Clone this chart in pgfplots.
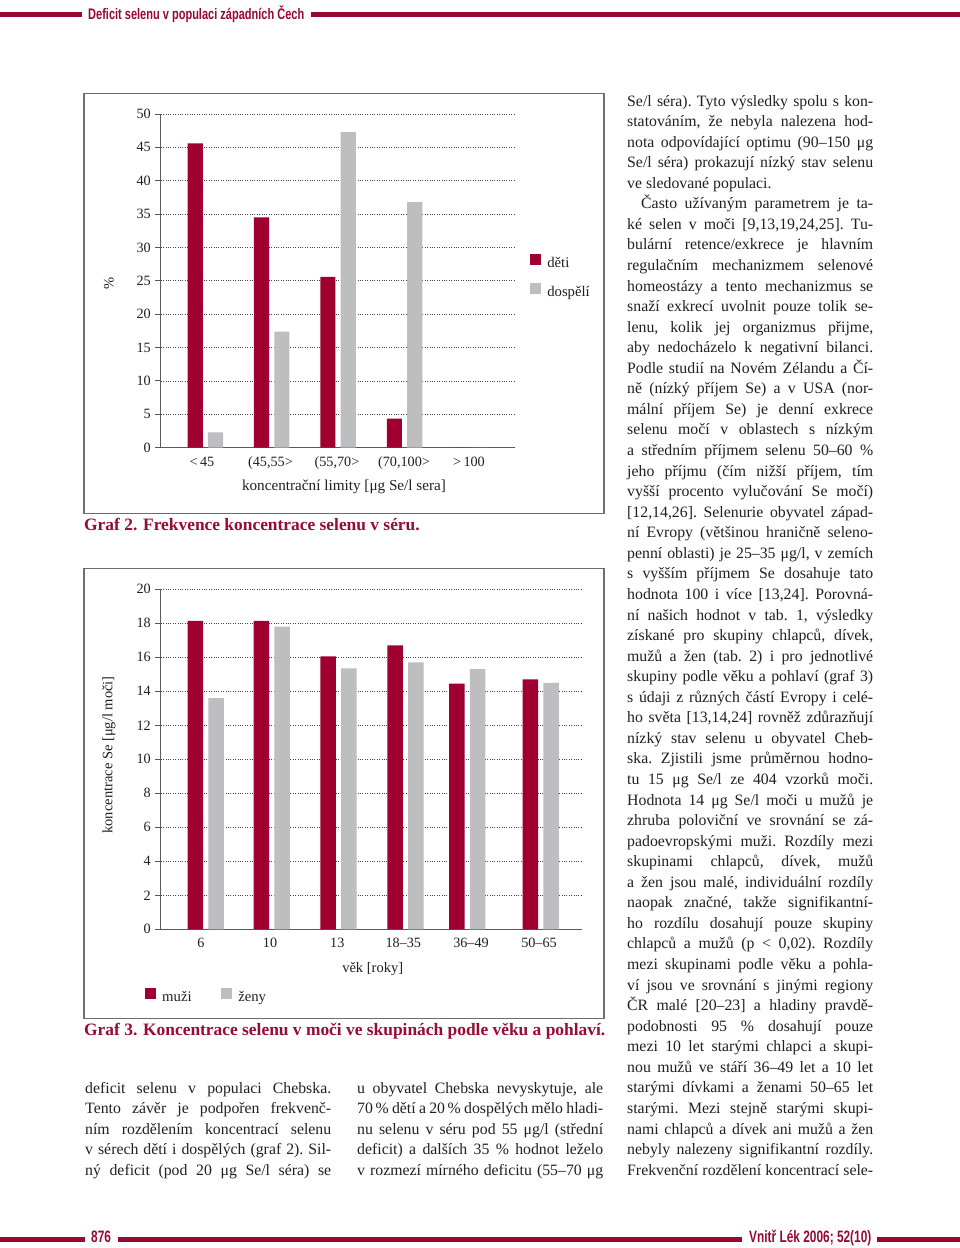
\documentclass[border=0pt]{standalone}
\usepackage{fontspec}
\setmainfont{Liberation Serif}
\newfontfamily\headfont[FakeStretch=0.72]{Liberation Sans}
\usepackage{pgfplots}
\pgfplotsset{compat=1.18}
\definecolor{barred}{RGB}{160,0,48}
\definecolor{bargray}{RGB}{190,190,192}
\definecolor{capred}{RGB}{150,12,50}
\definecolor{hdred}{RGB}{150,10,50}
\definecolor{axgray}{RGB}{90,90,90}
\definecolor{gridgray}{RGB}{70,70,70}
\definecolor{framegray}{RGB}{110,110,110}
\definecolor{txt}{RGB}{35,31,32}
\newcommand\J[1]{\hbox to 246pt{#1}}
\newcommand\N[1]{\hbox{#1}}
\newcommand\col[1]{\vtop{\fontsize{15.8}{20.56}\selectfont\frenchspacing\baselineskip=20.56pt\lineskiplimit=-30pt\hsize=246pt #1}}
\pgfplotsset{
  mybars/.style={
    axis x line*=bottom, axis y line*=left,
    axis line style={draw=axgray, line width=1.2pt, -},
    ymajorgrids, grid style={dotted, draw=gridgray, line width=0.9pt},
    tick align=outside, major tick length=6pt,
    ytick style={draw=axgray, line width=1pt},
    xtick style={draw=none},
    /pgf/number format/assume math mode=true,
    tick label style={font=\fontsize{14.2}{16}\selectfont, text=txt},
    yticklabel style={anchor=east, inner sep=0pt, xshift=-3.7pt},
    xticklabel style={anchor=north, inner sep=0pt, yshift=-3pt},
    legend cell align=left,
    clip=false,
  }
}
\begin{document}
\begin{tikzpicture}
\begin{scope}[x=1pt,y=-1pt]
\path[use as bounding box, fill=white] (0,0) rectangle (960,1248);
% header
\fill[hdred] (0,11.8) rectangle (82,16.8);
\fill[hdred] (311,11.8) rectangle (960,16.8);
\node[anchor=base west, inner sep=0, text=hdred] at (88,19.5) {\headfont\bfseries\fontsize{15.3}{15}\selectfont Deficit selenu v populaci západních Čech};
% footer
\fill[hdred] (0,1237.3) rectangle (85,1242.3);
\fill[hdred] (118,1237.3) rectangle (742,1242.3);
\fill[hdred] (877,1237.3) rectangle (960,1242.3);
\node[anchor=base west, inner sep=0, text=hdred] at (91,1242.5) {\headfont\bfseries\fontsize{16.5}{16}\selectfont 876};
\node[anchor=base west, inner sep=0, text=hdred] at (749,1242.5) {\headfont\bfseries\fontsize{16.5}{16}\selectfont Vnitř Lék 2006; 52(10)};
% frames
\draw[framegray, line width=1.4pt] (84,93.3) rectangle (604,513.3);
\draw[framegray, line width=1.4pt] (84,568.3) rectangle (604,1018.3);
% captions
\node[anchor=base west, inner sep=0, text=capred, font=\bfseries\fontsize{17.4}{20}\selectfont] at (84,530) {Graf 2. Frekvence koncentrace selenu v séru.};
\node[anchor=base west, inner sep=0, text=capred, font=\bfseries\fontsize{17.4}{20}\selectfont] at (84,1035) {Graf 3. Koncentrace selenu v moči ve skupinách podle věku a pohlaví.};
% axis labels
\node[rotate=90, text=txt, font=\fontsize{14.5}{17}\selectfont] at (108.8,283) {\%};
\node[text=txt, font=\fontsize{15.2}{17}\selectfont] at (344,487) {koncentrační limity [μg Se/l sera]};
\node[rotate=90, text=txt, font=\fontsize{14.5}{17}\selectfont] at (108.8,755) {koncentrace Se [μg/l moči]};
\node[text=txt, font=\fontsize{14.5}{17}\selectfont] at (372.7,969) {věk [roky]};
% body text
\node[anchor=base west, inner sep=0, text=txt] at (85,1093) {\col{%
\J{deficit selenu v populaci Chebska.}
\J{Tento závěr je podpořen frekvenč-}
\J{ním rozdělením koncentrací selenu}
\J{v sérech dětí i dospělých (graf 2). Sil-}
\J{ný deficit (pod 20 μg Se/l séra) se}}};
\node[anchor=base west, inner sep=0, text=txt] at (357,1093) {\col{%
\J{u obyvatel Chebska nevyskytuje, ale}
\J{70\,\% dětí a 20\,\% dospělých mělo hladi-}
\J{nu selenu v séru pod 55 μg/l (střední}
\J{deficit) a dalších 35 \% hodnot leželo}
\J{v rozmezí mírného deficitu (55–70 μg}}};
\node[anchor=base west, inner sep=0, text=txt] at (627,106) {\col{%
\J{Se/l séra). Tyto výsledky spolu s kon-}
\J{statováním, že nebyla nalezena hod-}
\J{nota odpovídající optimu (90–150 μg}
\J{Se/l séra) prokazují nízký stav selenu}
\N{ve sledované populaci.}
\J{\hspace{14pt}Často užívaným parametrem je ta-}
\J{ké selen v moči [9,13,19,24,25]. Tu-}
\J{bulární retence/exkrece je hlavním}
\J{regulačním mechanizmem selenové}
\J{homeostázy a tento mechanizmus se}
\J{snaží exkrecí uvolnit pouze tolik se-}
\J{lenu, kolik jej organizmus přijme,}
\J{aby nedocházelo k negativní bilanci.}
\J{Podle studií na Novém Zélandu a Čí-}
\J{ně (nízký příjem Se) a v USA (nor-}
\J{mální příjem Se) je denní exkrece}
\J{selenu močí v oblastech s nízkým}
\J{a středním příjmem selenu 50–60 \%}
\J{jeho příjmu (čím nižší příjem, tím}
\J{vyšší procento vylučování Se močí)}
\J{[12,14,26]. Selenurie obyvatel západ-}
\J{ní Evropy (většinou hraničně seleno-}
\J{penní oblasti) je 25–35 μg/l, v zemích}
\J{s vyšším příjmem Se dosahuje tato}
\J{hodnota 100 i více [13,24]. Porovná-}
\J{ní našich hodnot v tab. 1, výsledky}
\J{získané pro skupiny chlapců, dívek,}
\J{mužů a žen (tab. 2) i pro jednotlivé}
\J{skupiny podle věku a pohlaví (graf 3)}
\J{s údaji z různých částí Evropy i celé-}
\J{ho světa [13,14,24] rovněž zdůrazňují}
\J{nízký stav selenu u obyvatel Cheb-}
\J{ska. Zjistili jsme průměrnou hodno-}
\J{tu 15 μg Se/l ze 404 vzorků moči.}
\J{Hodnota 14 μg Se/l moči u mužů je}
\J{zhruba poloviční ve srovnání se zá-}
\J{padoevropskými muži. Rozdíly mezi}
\J{skupinami chlapců, dívek, mužů}
\J{a žen jsou malé, individuální rozdíly}
\J{naopak značné, takže signifikantní-}
\J{ho rozdílu dosahují pouze skupiny}
\J{chlapců a mužů (p < 0,02). Rozdíly}
\J{mezi skupinami podle věku a pohla-}
\J{ví jsou ve srovnání s jinými regiony}
\J{ČR malé [20–23] a hladiny pravdě-}
\J{podobnosti 95 \% dosahují pouze}
\J{mezi 10 let starými chlapci a skupi-}
\J{nou mužů ve stáří 36–49 let a 10 let}
\J{starými dívkami a ženami 50–65 let}
\J{starými. Mezi stejně starými skupi-}
\J{nami chlapců a dívek ani mužů a žen}
\J{nebyly nalezeny signifikantní rozdíly.}
\J{Frekvenční rozdělení koncentrací sele-}}};
\end{scope}

% ---------- Graf 2 ----------
\begin{axis}[mybars,
  at={(160.7pt,-447.7pt)}, anchor=south west,
  x=1pt, y=6.674pt,
  xmin=160.7, xmax=514, ymin=0, ymax=50,
  ytick={0,5,...,50},
  xtick={202,270.5,337,404,469},
  xticklabels={{<\,45},{(45,55>},{(55,70>},{(70,100>},{>\,100}},
  legend style={draw=none, fill=none, at={(1.0436,0.5805)}, anchor=north west,
    inner sep=0pt, row sep=11.2pt, font=\fontsize{14.7}{17}\selectfont,
    nodes={inner sep=0pt, text height=11pt, text depth=3.5pt, text=txt},
    /tikz/every odd column/.style={column sep=6.7pt}},
]
\addplot[ybar, fill=barred, draw=none, bar width=15.2, bar shift=-10.15,
  legend image code/.code={\fill[barred] (0pt,-1pt) rectangle (11pt,10pt);}]
  coordinates {(205.4,45.6) (271.7,34.5) (338,25.6) (404.5,4.35) (470.9,0)};
\addlegendentry{děti}
\addplot[ybar, fill=bargray, draw=none, bar width=15.2, bar shift=10.15,
  legend image code/.code={\fill[bargray] (0pt,-1pt) rectangle (11pt,10pt);}]
  coordinates {(205.4,2.3) (271.7,17.4) (338,47.3) (404.5,36.8) (470.9,0)};
\addlegendentry{dospělí}
\end{axis}

% ---------- Graf 3 ----------
\begin{axis}[mybars,
  at={(160.7pt,-929.3pt)}, anchor=south west,
  x=1pt, y=17pt,
  xmin=160.7, xmax=582, ymin=0, ymax=20,
  ytick={0,2,...,20},
  xtick={201,270,337.3,403.3,471,539},
  xticklabels={6,10,13,18–35,36–49,50–65},
  legend columns=2,
  legend style={draw=none, fill=none, at={(-0.0389,-0.1726)}, anchor=north west,
    inner sep=0pt, font=\fontsize{14.7}{17}\selectfont,
    nodes={inner sep=0pt, text height=11pt, text depth=3.5pt, text=txt},
    /tikz/every odd column/.style={column sep=6.7pt},
    /tikz/every even column/.style={column sep=29pt}},
]
\addplot[ybar, fill=barred, draw=none, bar width=15.5, bar shift=-10.35,
  legend image code/.code={\fill[barred] (0pt,-1pt) rectangle (11pt,10pt);}]
  coordinates {(205.8,18.15) (271.8,18.15) (338.5,16.05) (405.5,16.7) (467.2,14.45) (540.7,14.7)};
\addlegendentry{muži}
\addplot[ybar, fill=bargray, draw=none, bar width=15.5, bar shift=10.35,
  legend image code/.code={\fill[bargray] (0pt,-1pt) rectangle (11pt,10pt);}]
  coordinates {(205.8,13.6) (271.8,17.8) (338.5,15.35) (405.5,15.7) (467.2,15.3) (540.7,14.5)};
\addlegendentry{ženy}
\end{axis}
\end{tikzpicture}
\end{document}
